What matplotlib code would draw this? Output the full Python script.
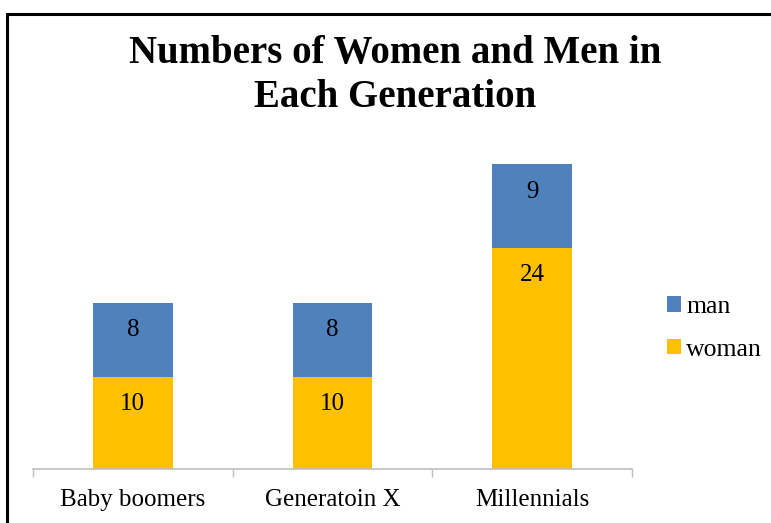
import matplotlib
matplotlib.use("Agg")
import matplotlib.pyplot as plt
from matplotlib.patches import Rectangle
import numpy as np

categories = ["Baby boomers", "Generatoin X", "Millennials"]
woman = [10, 10, 24]
man = [8, 8, 9]

BLUE = "#4F81BD"
GOLD = "#FFC000"
SERIF = ["Liberation Serif", "DejaVu Serif"]

fig = plt.figure(figsize=(7.71, 5.23), dpi=100)
ax = fig.add_axes([33 / 771, 54 / 523, 599 / 771, 323 / 523])

x = np.arange(len(categories))
bw = 0.4
b_w = ax.bar(x, woman, bw, color=GOLD, label="woman")
b_m = ax.bar(x, man, bw, bottom=woman, color=BLUE, label="man")

# labels sit near the top of each segment
for i in range(len(categories)):
    ax.annotate(str(woman[i]), (x[i], woman[i]), xytext=(0, -19.5), textcoords="offset points",
                ha="center", va="center", fontsize=18, family=SERIF)
    ax.annotate(str(man[i]), (x[i], woman[i] + man[i]), xytext=(0, -19.5), textcoords="offset points",
                ha="center", va="center", fontsize=18, family=SERIF)

ax.set_xlim(-0.5, 2.5)
ax.set_ylim(0, 35)
for s in ("left", "right", "top"):
    ax.spines[s].set_visible(False)
ax.spines["bottom"].set_color("#BFBFBF")
ax.spines["bottom"].set_linewidth(1.2)
ax.set_yticks([])
ax.set_xticks([-0.5, 0.5, 1.5, 2.5])
ax.set_xticklabels([])
ax.tick_params(axis="x", length=6, color="#BFBFBF", width=1.0)
for i, c in enumerate(categories):
    ax.annotate(c, (x[i], 0), xytext=(0, -22.5), textcoords="offset points",
                ha="center", va="center", fontsize=18, family=SERIF)

fig.text(395 / 771, 1 - 75 / 523, "Numbers of Women and Men in\nEach Generation",
         ha="center", va="center", fontsize=28, fontweight="bold", family=SERIF,
         linespacing=1.25)

leg = fig.legend([b_m, b_w], ["man", "woman"], loc="upper left",
                 bbox_to_anchor=(667 / 771, 1 - 296 / 523), frameon=False,
                 prop={"family": SERIF, "size": 18.5}, handlelength=0.55, handleheight=0.55,
                 handletextpad=0.2, labelspacing=0.8, borderpad=0, borderaxespad=0)

fig.patches.append(Rectangle((6.5 / 771, -0.2), 1.5, 1.2 - 13.5 / 523, transform=fig.transFigure,
                             fill=False, edgecolor="black", linewidth=2.2))

fig.savefig("out.png", dpi=100)
